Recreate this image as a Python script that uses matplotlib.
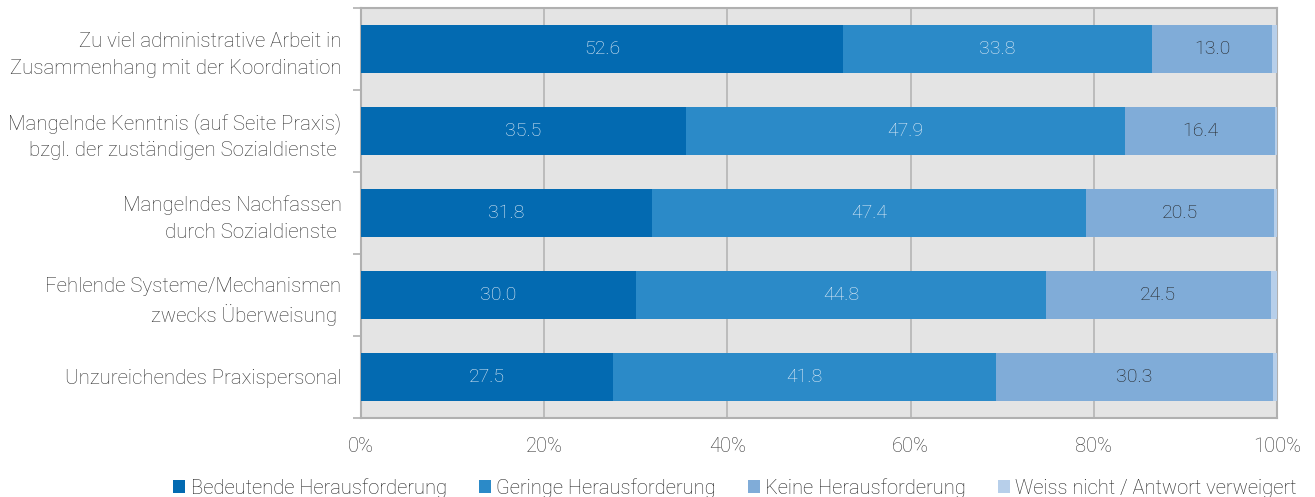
import matplotlib
matplotlib.use('Agg')
import matplotlib.pyplot as plt
from matplotlib.patches import Patch
import numpy as np

plt.rcParams['font.family'] = ['Roboto', 'DejaVu Sans']
plt.rcParams['font.weight'] = 'light'

# Daten
categories = [
    'Zu viel administrative Arbeit in\nZusammenhang mit der Koordination',
    'Mangelnde Kenntnis (auf Seite Praxis)\nbzgl. der zuständigen Sozialdienste ',
    'Mangelndes Nachfassen\ndurch Sozialdienste ',
    'Fehlende Systeme/Mechanismen\nzwecks Überweisung ',
    'Unzureichendes Praxispersonal',
]
series_names = [
    'Bedeutende Herausforderung',
    'Geringe Herausforderung',
    'Keine Herausforderung',
    'Weiss nicht / Antwort verweigert',
]
bedeutend = [52.6, 35.5, 31.8, 30.0, 27.5]
gering = [33.8, 47.9, 47.4, 44.8, 41.8]
keine = [13.0, 16.4, 20.5, 24.5, 30.3]
weiss_nicht = [0.6, 0.2, 0.3, 0.7, 0.4]

colors = ['#036ab1', '#2b8ac8', '#80acd8', '#b7cfea']
text_colors = ['#e4eef8', '#e4eef8', '#222222', None]

fig = plt.figure(figsize=(13.15, 4.97), dpi=100)
ax = fig.add_axes([361 / 1315, 1 - 418 / 497, (1277 - 361) / 1315, (418 - 8) / 497])
ax.set_facecolor('#e4e4e4')

y = np.arange(len(categories))
left = np.zeros(len(categories))
for vals, name, col, tcol in zip([bedeutend, gering, keine, weiss_nicht], series_names, colors, text_colors):
    vals = np.array(vals)
    ax.barh(y, vals, left=left, height=0.59, color=col, label=name, zorder=3)
    if tcol is not None:
        for yi, l, v in zip(y, left, vals):
            ax.text(l + v / 2, yi, f'{v:.1f}', ha='center', va='center',
                    color=tcol, fontsize=14, zorder=4)
    left += vals

ax.set_xlim(0, 100)
ax.set_ylim(len(categories) - 0.5, -0.5)
ax.set_xticks(np.arange(0, 101, 20))
ax.set_xticklabels([f'{t}%' for t in range(0, 101, 20)])
ax.set_yticks(y)
ax.set_yticklabels(categories, fontsize=14.7, color='#333333', linespacing=1.5)
ax.set_yticks(np.arange(-0.5, len(categories), 1), minor=True)
ax.tick_params(axis='y', which='major', length=0, pad=14)
ax.tick_params(axis='y', which='minor', length=6, color='#b0b0b0', width=1.2)
ax.tick_params(axis='x', length=0, pad=14, labelsize=14.5, labelcolor='#333333')
ax.grid(axis='x', color='#b4b4b4', linewidth=1.2, zorder=1)

for s in ['left', 'bottom', 'top', 'right']:
    ax.spines[s].set_color('#b0b0b0')
    ax.spines[s].set_linewidth(1.5)

handles = [Patch(facecolor=c, label=n) for c, n in zip(colors, series_names)]
fig.legend(handles=handles, loc='lower center', bbox_to_anchor=(0.559, -0.038), ncol=4,
           frameon=False, fontsize=14.5, handlelength=0.6, handleheight=0.6,
           handletextpad=0.25, columnspacing=1.6, labelcolor='#222222')

fig.savefig('out.png', dpi=100)
